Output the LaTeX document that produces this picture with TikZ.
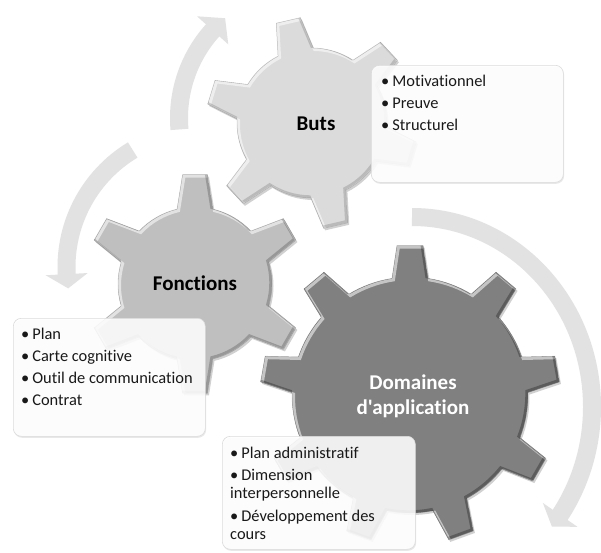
\documentclass[tikz,border=0pt]{standalone}
\usepackage{fontspec}
\setmainfont{Carlito}[Ligatures={TeXOff,NoCommon}]
\usetikzlibrary{calc,shadows}
\definecolor{arrowgray}{RGB}{226,226,226}
\definecolor{gearlight}{RGB}{219,219,219}
\definecolor{gearmid}{RGB}{191,191,191}
\definecolor{geardark}{RGB}{128,128,128}

% path of a gear around the current origin:
% #1 body radius, #2 tooth radius, #3 teeth, #4 first tooth angle, #5 half angle at base, #6 half angle at tip
\newcommand{\gearpath}[6]{%
  ({#4+#5}:#1)
  \foreach \k in {1,...,#3}{
    arc[start angle={#4+(\k-1)*360/#3+#5}, end angle={#4+\k*360/#3-#5}, radius=#1]
    -- ({#4+\k*360/#3-#6}:#2) -- ({#4+\k*360/#3+#6}:#2) -- ({#4+\k*360/#3+#5}:#1)
  } -- cycle}

% full gear: #1 centre x, #2 centre y, #3 fill colour, #4 rim shade, #5..#9 geometry (tip half angle in \gtip)
\newcommand{\drawgear}[9]{%
  \fill[black, opacity=0.18, shift={(#1+1.5,#2+2)}] \gearpath{#5}{#6}{#7}{#8}{#9}{\gtip};
  \fill[#3, shift={(#1,#2)}] \gearpath{#5}{#6}{#7}{#8}{#9}{\gtip};
  \begin{scope}
    \path[clip, shift={(#1,#2)}] \gearpath{#5}{#6}{#7}{#8}{#9}{\gtip};
    \draw[white, opacity=0.55, line width=3pt, shift={(#1+1.5,#2+1.5)}] \gearpath{#5}{#6}{#7}{#8}{#9}{\gtip};
    \draw[black, opacity=#4, line width=2.6pt, shift={(#1-1.4,#2-1.4)}] \gearpath{#5}{#6}{#7}{#8}{#9}{\gtip};
  \end{scope}
  \draw[black, opacity=0.18, line width=0.5pt, shift={(#1,#2)}] \gearpath{#5}{#6}{#7}{#8}{#9}{\gtip};
}

\tikzset{
  arrowband/.style={draw=arrowgray, line width=18pt},
  arrowhead/.style={fill=arrowgray},
  infobox/.style={rectangle, rounded corners=8pt, fill=white, fill opacity=0.88,
    draw=black!14, line width=0.6pt, anchor=north west, inner sep=0pt,
    drop shadow={opacity=0.18, shadow xshift=0.8pt, shadow yshift=-1.5pt}},
  itemtext/.style={anchor=base west, inner sep=0pt, font=\fontsize{16.4}{19}\selectfont, text=black!90},
  gearlabel/.style={inner sep=0pt, align=center, font=\bfseries\fontsize{21}{25}\selectfont}
}
\newcommand{\itm}{•\hspace{3pt}}

\begin{document}
\begin{tikzpicture}[x=1pt,y=-1pt]
\useasboundingbox (0,0) rectangle (601,552);
\fill[white] (0,0) rectangle (601,552);

% ---- circular arrows
\coordinate (ca) at (310,118);
\draw[arrowband] ($(ca)+(-185:131)$) arc[start angle=-185, end angle=-136, radius=131];
\fill[arrowhead] ($(ca)+(-138:110)$) -- ($(ca)+(-138:152)$) -- ($(ca)+(-130.4:131)$) -- cycle;

\coordinate (cb) at (203,267);
\draw[arrowband] ($(cb)+(-121:136.5)$) arc[start angle=-121, end angle=-185, radius=136.5];
\fill[arrowhead] ($(cb)+(-183:115.5)$) -- ($(cb)+(-183:157.5)$) -- ($(cb)+(-189:136.5)$) -- cycle;

\coordinate (cc) at (412,407);
\draw[arrowband] ($(cc)+(-90:180 and 190)$) arc[start angle=-90, end angle=36.5, x radius=180, y radius=190];
\fill[arrowhead] ($(cc)+(34.6:159 and 169)$) -- ($(cc)+(34.6:201 and 211)$) -- ($(cc)+(39:180 and 190)$) -- cycle;

% ---- gears
\def\gtip{5.0}
\drawgear{410}{395}{geardark}{0.28}{118}{150}{9}{-90}{8.8}
\def\gtip{6.5}
\drawgear{195}{284}{gearmid}{0.2}{77}{110}{6}{-90}{13.5}
\def\gtip{6.7}
\drawgear{312}{123}{gearlight}{0.15}{75}{106}{6}{-43}{13.9}

\node[gearlabel] (buts) at (316,124) {Buts};
\node[gearlabel] (fonctions) at (195,283) {Fonctions};
\node[gearlabel, text=white] (domaines) at (413,396) {Domaines\\d'application};

% ---- text boxes
\node[infobox, minimum width=192pt, minimum height=117pt] (butsbox) at (371,65) {};
\node[itemtext] (b1) at (381,86) {\itm Motivationnel};
\node[itemtext] (b2) at (381,108) {\itm Preuve};
\node[itemtext] (b3) at (381,130) {\itm Structurel};

\node[infobox, minimum width=192pt, minimum height=118pt] (fonctbox) at (13,318) {};
\node[itemtext] (f1) at (21,339) {\itm Plan};
\node[itemtext] (f2) at (21,361) {\itm Carte cognitive};
\node[itemtext] (f3) at (21,383) {\itm Outil de communication};
\node[itemtext] (f4) at (21,405) {\itm Contrat};

\node[infobox, minimum width=193pt, minimum height=113pt] (dombox) at (222,436) {};
\node[itemtext] (d1) at (230,458) {\itm Plan administratif};
\node[itemtext] (d2) at (230,480) {\itm Dimension};
\node[itemtext] (d3) at (230,498) {interpersonnelle};
\node[itemtext] (d4) at (230,521) {\itm Développement des};
\node[itemtext] (d5) at (230,539) {cours};
\end{tikzpicture}
\end{document}
